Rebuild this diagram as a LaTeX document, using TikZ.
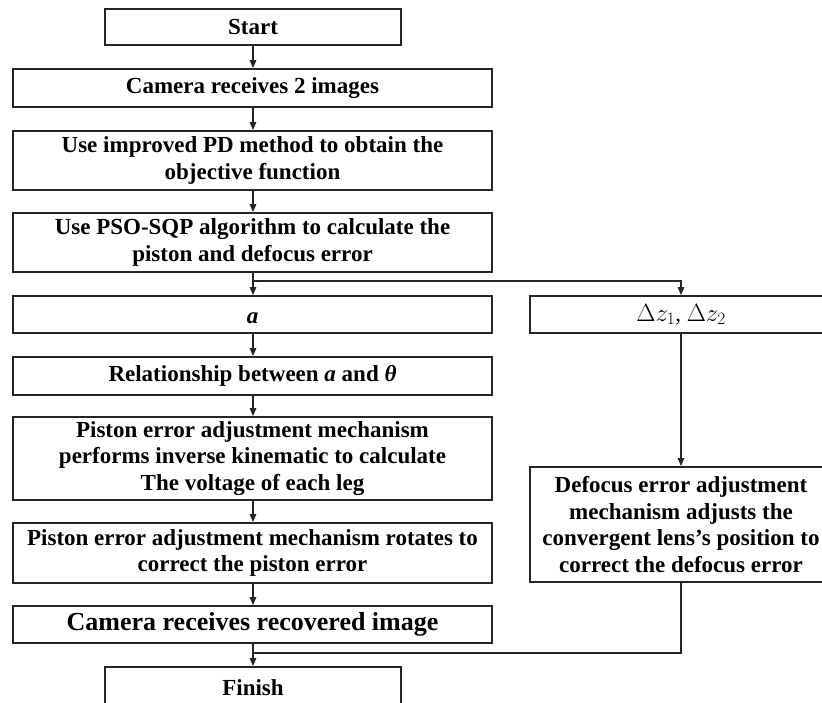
\documentclass[tikz,border=0pt]{standalone}
\usepackage{fontspec}
\setmainfont{Liberation Serif}
\usetikzlibrary{arrows.meta}
\begin{document}
\begin{tikzpicture}[x=1pt,y=-1pt,
  box/.style={draw=black!85, line width=1.8pt, fill=white, inner sep=0pt, align=center,
    font=\fontsize{23}{26.5}\selectfont\bfseries},
  wide/.style={minimum width=479pt},
  conn/.style={draw=black!85, line width=1.3pt},
  arr/.style={conn, -{Triangle[length=8pt,width=6.5pt]}}]
\clip (0,0) rectangle (822,702);
\fill[white] (0,0) rectangle (822,702);
\node[box, minimum width=296pt, minimum height=36pt] (start) at (253,27) {Start};
\node[box, wide, minimum height=38pt] (cam) at (252.5,88) {Camera receives 2 images};
\node[box, wide, minimum height=59pt] (pd) at (252.5,160.5) {Use improved PD method to obtain the\\objective function};
\node[box, wide, minimum height=59pt] (pso) at (252.5,242.5) {Use PSO-SQP algorithm to calculate the\\piston and defocus error};
\node[box, wide, minimum height=37pt] (a) at (252.5,314.5) {};
\node[font=\fontsize{23}{26.5}\selectfont\bfseries\itshape, inner sep=0pt] (atext) at ([yshift=-4pt]a.center) {a};
\node[box, minimum width=302pt, minimum height=37pt] (dz) at (681,314.5) {\mdseries$\Delta z_1$, $\Delta z_2$};
\node[box, wide, minimum height=38pt] (rel) at (252.5,376) {Relationship between \textit{a} and \textit{θ}};
\node[box, wide, minimum height=83pt] (pist) at (252.5,458.5) {Piston error adjustment mechanism\\performs inverse kinematic to calculate\\The voltage of each leg};
\node[box, wide, minimum height=60pt] (rot) at (252.5,553) {Piston error adjustment mechanism rotates to\\correct the piston error};
\node[box, wide, minimum height=37pt, font=\fontsize{26}{30}\selectfont\bfseries] (rec) at (252.5,624.5) {Camera receives recovered image};
\node[box, minimum width=296pt, minimum height=42pt] (fin) at (253,688) {Finish};
\node[box, minimum width=302pt, minimum height=115pt] (def) at (681,524.5) {Defocus error adjustment\\mechanism adjusts the\\convergent lens’s position to\\correct the defocus error};
\coordinate (br) at (253,281);
\coordinate (mg) at (253,653);
\draw[arr] (start.south -| 253,0) -- (cam.north -| 253,0);
\draw[arr] (cam.south -| 253,0) -- (pd.north -| 253,0);
\draw[arr] (pd.south -| 253,0) -- (pso.north -| 253,0);
\draw[arr] (pso.south -| br) -- (a.north -| br);
\draw[arr] (br) -| (dz.north);
\draw[arr] (a.south -| br) -- (rel.north -| br);
\draw[arr] (rel.south -| br) -- (pist.north -| br);
\draw[arr] (pist.south -| br) -- (rot.north -| br);
\draw[arr] (rot.south -| br) -- (rec.north -| br);
\draw[arr] (rec.south -| mg) -- (fin.north -| mg);
\draw[arr] (dz.south) -- (def.north);
\draw[conn] (def.south) |- (mg);
\end{tikzpicture}
\end{document}
